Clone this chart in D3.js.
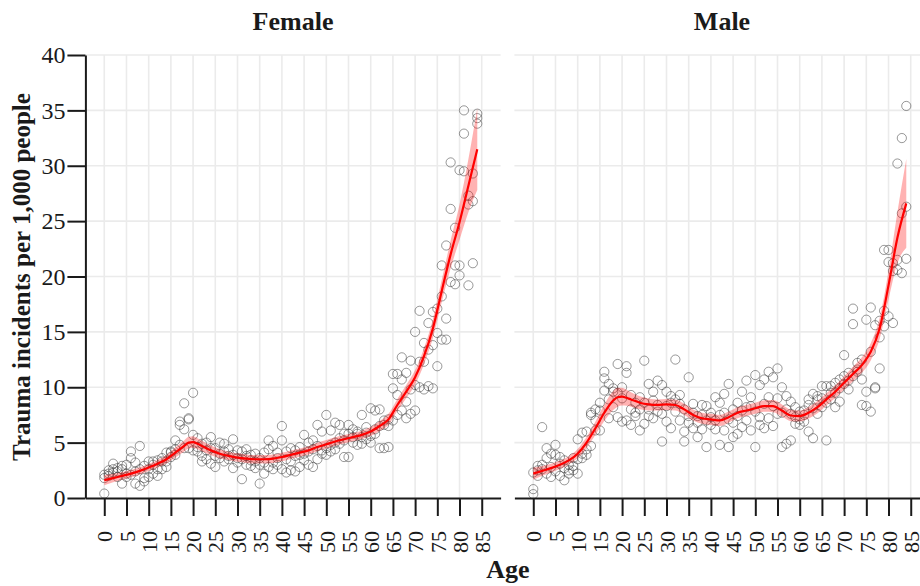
<!DOCTYPE html>
<html>
<head>
<meta charset="utf-8">
<script src="https://cdn.jsdelivr.net/npm/d3@7"></script>
<style>
  body { margin: 0; background: #fff; }
  svg { display: block; }
  text { font-family: "Liberation Serif", "Times New Roman", serif; fill: #1a1a1a; }
</style>
</head>
<body>
<svg id="chart" width="920" height="586"></svg>
<script>
// Age in years (one row of rates per age)
const ages = d3.range(0, 85);
const panels = ["Female", "Male"];
const xTicks = d3.range(0, 90, 5);
const yTicks = d3.range(0, 45, 5);

// Observed trauma incidents per 1,000 people, three observations per age
const femaleRates = [
  [0.4, 1.8, 2.1], [2.2, 2.5, 2.0], [3.1, 2.6, 2.3], [2.7, 2.4, 1.9], [1.3, 2.6, 2.9],
  [1.9, 3.0, 2.2], [4.2, 3.6, 2.1], [1.3, 2.4, 3.2], [4.7, 1.1, 2.6], [1.5, 1.8, 2.9],
  [3.3, 2.6, 1.9], [3.3, 2.2, 3.0], [2.0, 2.6, 3.4], [2.6, 3.3, 3.6], [3.3, 4.1, 2.8],
  [4.1, 4.2, 3.7], [4.4, 3.9, 5.2], [6.9, 6.6, 4.8], [8.55, 6.2, 4.5], [7.2, 7.1, 4.5],
  [9.5, 5.7, 4.3], [4.2, 5.4, 4.6], [4.9, 3.8, 3.3], [5.0, 3.5, 4.3], [4.5, 3.1, 5.5],
  [4.5, 3.8, 2.8], [5.0, 3.6, 4.0], [4.2, 3.3, 4.9], [3.8, 4.4, 3.5], [5.3, 2.7, 3.9],
  [3.6, 4.3, 3.2], [1.7, 4.2, 3.5], [4.4, 3.0, 3.8], [3.9, 3.4, 2.9], [2.7, 3.3, 4.0],
  [1.3, 3.0, 3.6], [2.2, 3.2, 4.1], [5.2, 4.4, 2.8], [4.7, 3.2, 2.6], [3.6, 4.1, 3.0],
  [6.5, 5.2, 2.6], [4.2, 2.3, 3.5], [4.5, 2.5, 3.3], [4.3, 2.4, 3.8], [3.9, 2.8, 4.6],
  [5.7, 3.4, 4.0], [5.0, 3.0, 4.2], [5.2, 2.8, 4.4], [6.6, 3.5, 4.7], [6.0, 4.0, 4.3],
  [7.5, 4.5, 3.9], [6.1, 4.8, 4.2], [6.8, 4.4, 5.0], [6.6, 4.9, 5.4], [3.7, 5.2, 5.8],
  [3.7, 6.6, 5.8], [5.0, 5.5, 6.2], [4.8, 5.8, 6.0], [7.5, 4.9, 5.5], [5.3, 5.9, 6.4],
  [8.1, 5.0, 5.6], [7.9, 5.8, 6.2], [8.0, 4.5, 6.5], [4.5, 6.6, 7.0], [6.5, 4.6, 7.1],
  [11.2, 7.0, 9.9], [11.2, 7.5, 9.3], [12.7, 7.9, 10.7], [11.3, 7.2, 8.7], [12.4, 7.6, 9.8],
  [15.0, 10.2, 7.9], [16.9, 12.3, 10.0], [12.3, 9.8, 14.0], [13.4, 15.8, 10.1], [16.8, 13.8, 9.9],
  [11.9, 17.1, 14.9], [21.0, 18.2, 14.3], [22.8, 14.3, 16.2], [30.3, 19.5, 26.1], [24.4, 19.3, 21.0],
  [29.6, 20.1, 21.0], [35.0, 32.9, 29.5], [27.3, 26.5, 19.2], [29.3, 21.2, 26.8], [34.7, 34.3, 33.8]
];

const maleRates = [
  [0.8, 0.35, 2.3], [2.5, 2.0, 2.9], [6.4, 3.0, 2.6], [3.6, 2.2, 4.5], [4.0, 1.9, 2.8],
  [4.8, 3.9, 2.4], [3.7, 2.0, 3.1], [1.6, 2.7, 3.4], [2.5, 3.0, 2.2], [2.5, 3.6, 2.9],
  [2.2, 5.3, 3.5], [5.9, 3.6, 4.0], [3.9, 4.4, 6.0], [7.7, 7.5, 4.7], [7.0, 6.1, 8.0],
  [6.1, 7.9, 8.6], [11.4, 10.8, 9.7], [10.3, 7.2, 8.9], [9.9, 9.6, 8.2], [12.1, 9.5, 7.3],
  [6.9, 9.0, 10.0], [11.9, 11.3, 7.0], [8.0, 6.6, 9.3], [7.4, 8.6, 7.7], [6.1, 9.1, 8.0],
  [12.4, 6.7, 8.6], [10.3, 8.0, 7.4], [9.6, 7.2, 8.8], [10.6, 8.4, 7.8], [10.2, 5.1, 7.6],
  [9.6, 6.9, 8.3], [6.3, 8.6, 9.2], [12.5, 8.9, 7.8], [8.5, 9.3, 7.0], [6.0, 5.1, 8.0],
  [10.9, 7.4, 6.8], [7.7, 6.3, 8.5], [5.5, 6.8, 7.4], [8.4, 6.2, 7.5], [4.6, 8.3, 7.0],
  [7.7, 6.6, 7.3], [9.1, 6.2, 7.0], [4.8, 7.5, 8.6], [9.4, 6.1, 7.7], [10.3, 4.6, 7.1],
  [6.8, 8.0, 5.5], [8.6, 5.8, 7.4], [9.6, 6.4, 7.9], [10.6, 7.0, 8.2], [8.3, 9.1, 6.1],
  [11.1, 4.6, 7.8], [10.2, 7.3, 6.6], [10.7, 8.5, 6.3], [11.4, 7.2, 9.1], [10.9, 8.3, 6.5],
  [11.7, 9.0, 7.6], [4.6, 10.0, 7.7], [9.2, 4.9, 8.0], [5.2, 8.7, 7.6], [8.2, 6.7, 7.3],
  [6.6, 7.1, 7.8], [7.5, 6.9, 7.9], [8.9, 6.0, 8.4], [5.4, 9.4, 8.1], [8.9, 7.6, 9.2],
  [10.1, 8.2, 9.0], [5.2, 10.1, 8.6], [10.1, 9.5, 8.9], [9.5, 10.4, 8.2], [10.7, 9.9, 8.7],
  [12.9, 10.3, 11.0], [10.6, 11.3, 9.8], [17.1, 15.7, 11.0], [11.6, 12.2, 11.4], [12.5, 8.4, 10.7],
  [16.1, 8.3, 9.6], [17.2, 7.8, 13.2], [10.0, 9.9, 15.6], [11.7, 16.0, 14.5], [22.4, 15.5, 16.9],
  [22.4, 21.3, 16.4], [20.5, 21.2, 15.8], [30.2, 21.5, 20.6], [32.5, 25.7, 20.3], [35.4, 26.3, 21.6]
];

// Smoothed trend with its confidence half-width
const fitAges = [0, 2, 4, 6, 8, 10, 12, 14, 16, 18, 19, 20, 21, 22, 24, 26, 28, 30, 32, 34, 36, 38, 40,
  42, 44, 46, 48, 50, 52, 54, 56, 58, 60, 62, 64, 66, 68, 70, 72, 74, 76, 78, 80, 82, 84];
const femaleFit = [1.6, 1.8, 2.0, 2.2, 2.45, 2.75, 3.1, 3.5, 4.1, 4.7, 5.0, 5.05, 4.9, 4.7, 4.3, 4.0, 3.8,
  3.65, 3.55, 3.5, 3.5, 3.55, 3.7, 3.9, 4.1, 4.3, 4.6, 4.85, 5.1, 5.3, 5.5, 5.7, 6.0, 6.5, 7.1, 8.4, 9.6,
  10.9, 12.8, 15.3, 18.7, 22.0, 24.9, 28.2, 31.5];
const femaleBand = [0.45, 0.38, 0.35, 0.33, 0.32, 0.32, 0.34, 0.38, 0.45, 0.5, 0.52, 0.52, 0.5, 0.48, 0.44,
  0.4, 0.38, 0.38, 0.38, 0.38, 0.38, 0.38, 0.38, 0.38, 0.38, 0.38, 0.38, 0.38, 0.38, 0.38, 0.38, 0.38, 0.4,
  0.45, 0.5, 0.55, 0.6, 0.65, 0.72, 0.85, 1.0, 1.25, 1.6, 2.4, 3.7];
const maleFit = [2.2, 2.45, 2.7, 3.0, 3.4, 4.0, 5.0, 6.3, 7.7, 8.8, 9.1, 9.15, 9.05, 8.9, 8.6, 8.45, 8.4,
  8.45, 8.4, 8.0, 7.5, 7.2, 7.1, 7.0, 7.3, 7.7, 7.9, 8.1, 8.3, 8.3, 7.9, 7.45, 7.4, 7.7, 8.2, 8.9, 9.6,
  10.4, 11.2, 12.0, 13.2, 15.3, 19.2, 23.5, 26.6];
const maleBand = [0.55, 0.45, 0.4, 0.38, 0.38, 0.42, 0.5, 0.6, 0.75, 0.85, 0.85, 0.8, 0.72, 0.65, 0.58, 0.54,
  0.5, 0.5, 0.5, 0.5, 0.5, 0.5, 0.5, 0.5, 0.5, 0.5, 0.5, 0.5, 0.52, 0.55, 0.55, 0.52, 0.5, 0.52, 0.55,
  0.55, 0.58, 0.6, 0.65, 0.7, 0.78, 0.95, 1.3, 2.3, 4.0];

const rates = { Female: femaleRates, Male: maleRates };
const fits = { Female: femaleFit, Male: maleFit };
const bands = { Female: femaleBand, Male: maleBand };

const svg = d3.select("#chart");

const panelLeft = [85.4, 514.4];
const panelWidth = 415.2;
const plotTop = 55, plotBottom = 498;

const y = d3.scaleLinear().domain([0, 40]).range([plotBottom, plotTop]);

panels.forEach((name, p) => {
  const x = d3.scaleLinear().domain([-4.25, 89.25]).range([panelLeft[p], panelLeft[p] + panelWidth]);
  const g = svg.append("g");

  // grid
  g.append("g").selectAll("line").data(yTicks.filter(d => d > 0)).join("line")
    .attr("x1", x.range()[0]).attr("x2", x.range()[1])
    .attr("y1", d => y(d)).attr("y2", d => y(d))
    .attr("stroke", "#ebebeb").attr("stroke-width", 1.6);
  g.append("g").selectAll("line").data(xTicks).join("line")
    .attr("x1", d => x(d)).attr("x2", d => x(d))
    .attr("y1", plotTop).attr("y2", plotBottom)
    .attr("stroke", "#ebebeb").attr("stroke-width", 1.6);

  // observations
  const pts = [];
  ages.forEach((a, i) => rates[name][i].forEach(v => pts.push([a, v])));
  g.append("g").selectAll("circle").data(pts).join("circle")
    .attr("cx", d => x(d[0])).attr("cy", d => y(d[1])).attr("r", 4.6)
    .attr("fill", "none").attr("stroke", "#333").attr("stroke-opacity", 0.5).attr("stroke-width", 1);

  // smoothed trend and band
  const fit = fitAges.map((a, i) => ({ a, m: fits[name][i], s: bands[name][i] }));
  g.append("path").datum(fit)
    .attr("d", d3.area().curve(d3.curveMonotoneX)
      .x(d => x(d.a)).y0(d => y(d.m - d.s)).y1(d => y(d.m + d.s)))
    .attr("fill", "#ff0000").attr("fill-opacity", 0.3);
  g.append("path").datum(fit)
    .attr("d", d3.line().curve(d3.curveMonotoneX).x(d => x(d.a)).y(d => y(d.m)))
    .attr("fill", "none").attr("stroke", "#ff0000").attr("stroke-width", 2.2);

  // x axis
  const xa = g.append("g").attr("transform", `translate(0,${plotBottom})`)
    .call(d3.axisBottom(x).tickValues(xTicks).tickSize(18).tickSizeOuter(0));
  xa.select(".domain").attr("stroke", "#1a1a1a").attr("stroke-width", 2);
  xa.selectAll(".tick line").attr("stroke", "#1a1a1a").attr("stroke-width", 2);
  xa.selectAll(".tick text")
    .attr("transform", "rotate(-90)")
    .attr("text-anchor", "end")
    .attr("x", -33).attr("y", 0).attr("dy", "0.35em")
    .style("font-size", "22px");

  // panel title
  svg.append("text")
    .attr("x", x.range()[0] + panelWidth / 2).attr("y", 30)
    .attr("text-anchor", "middle")
    .style("font-size", "26px").style("font-weight", "bold")
    .text(name);

  if (p === 0) {
    const ya = g.append("g").attr("transform", `translate(${x.range()[0]},0)`)
      .call(d3.axisLeft(y).tickValues(yTicks).tickSize(18).tickSizeOuter(0).tickPadding(2));
    ya.select(".domain").attr("stroke", "#1a1a1a").attr("stroke-width", 2);
    ya.selectAll(".tick line").attr("stroke", "#1a1a1a").attr("stroke-width", 2);
    ya.selectAll(".tick text").style("font-size", "24px");
  }
});

// axis titles
svg.append("text")
  .attr("x", 508).attr("y", 578)
  .attr("text-anchor", "middle")
  .style("font-size", "26px").style("font-weight", "bold")
  .text("Age");

svg.append("text")
  .attr("transform", "translate(30,277) rotate(-90)")
  .attr("text-anchor", "middle")
  .style("font-size", "25px").style("font-weight", "bold")
  .text("Trauma incidents per 1,000 people");

svg.selectAll(".tick text").style("font-family", "'Liberation Serif', 'Times New Roman', serif").attr("fill", "#1a1a1a");
</script>
</body>
</html>
